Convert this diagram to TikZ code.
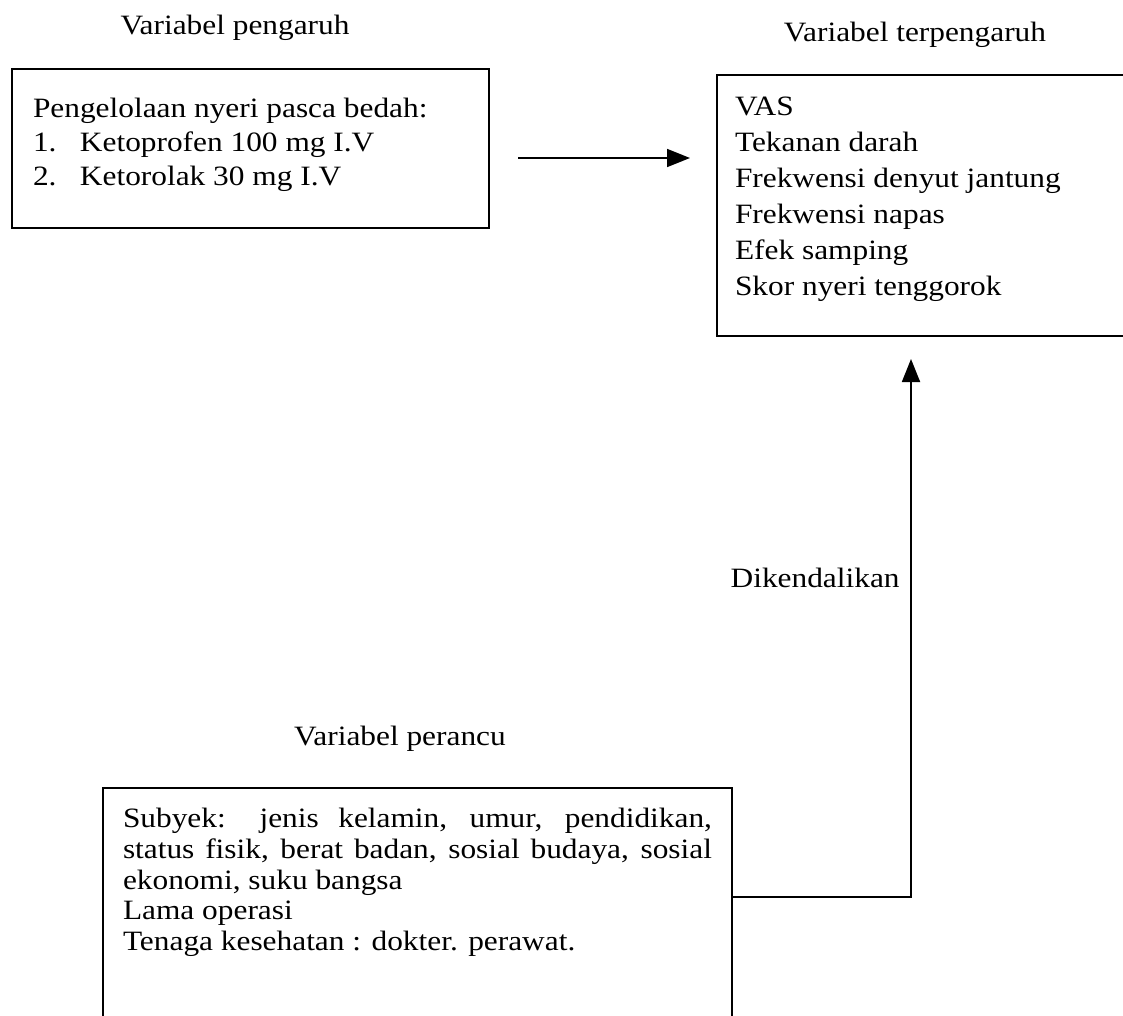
\documentclass[tikz,border=0pt]{standalone}
\usepackage{fontspec}
\setmainfont{Liberation Serif}[FakeStretch=1.12]
\usetikzlibrary{positioning,arrows.meta}

\tikzset{
  kotak/.style={draw, line width=0.9pt, anchor=north west, inner xsep=#1, inner ysep=0pt, outer sep=0pt},
  kotak/.default=10pt,
  panah/.style={line width=0.9pt, -{Triangle[length=11.5pt,width=9pt]}},
  judul/.style={anchor=base}
}

\begin{document}
\begin{tikzpicture}[x=0.5pt, y=-0.5pt, font=\fontsize{14}{17}\selectfont]
\useasboundingbox (0,0) rectangle (1123,1016);
\clip (0,0) rectangle (1123,1016);
\fill[white] (0,0) rectangle (1123,1016);

\node[judul] (jpengaruh) at (235,35) {Variabel pengaruh};
\node[judul] (jterpengaruh) at (915,42) {Variabel terpengaruh};
\node[judul] (jperancu) at (400,745) {Variabel perancu};

\node[kotak=10.5pt] (pengaruh) at (12,69) {\parbox[c][79.5pt][t]{217.5pt}{\vspace*{14.45pt}%
Pengelolaan nyeri pasca bedah:\\
\makebox[23.5pt][l]{1.}Ketoprofen 100 mg I.V\\
\makebox[23.5pt][l]{2.}Ketorolak 30 mg I.V}};

\node[kotak=9pt] (terpengaruh) at (717,75) {\parbox[c][130.5pt][t]{193.5pt}{\fontsize{14}{18}\selectfont\vspace*{10.75pt}%
VAS\\
Tekanan darah\\
Frekwensi denyut jantung\\
Frekwensi napas\\
Efek samping\\
Skor nyeri tenggorok}};

\node[kotak] (perancu) at (103,788) {\parbox[c][126pt][t]{294.5pt}{\fontsize{14}{15.4}\selectfont\vspace*{10pt}%
Subyek: jenis kelamin, umur, pendidikan,\linebreak
status fisik, berat badan, sosial budaya, sosial\linebreak
ekonomi, suku bangsa\\
Lama operasi\\
Tenaga kesehatan : dokter. perawat.}};

\coordinate (tinggi) at (600,158);
\draw[panah, shorten <=14.5pt, shorten >=13.5pt] (tinggi -| pengaruh.east) -- (tinggi -| terpengaruh.west);

\node[anchor=base east, inner xsep=0pt] (kendali) at (900,587) {Dikendalikan};
\coordinate (belok) at (911,897);
\draw[panah, shorten >=11.5pt] (belok -| perancu.east) -- (belok) -- (belok |- terpengaruh.south);
\end{tikzpicture}
\end{document}
